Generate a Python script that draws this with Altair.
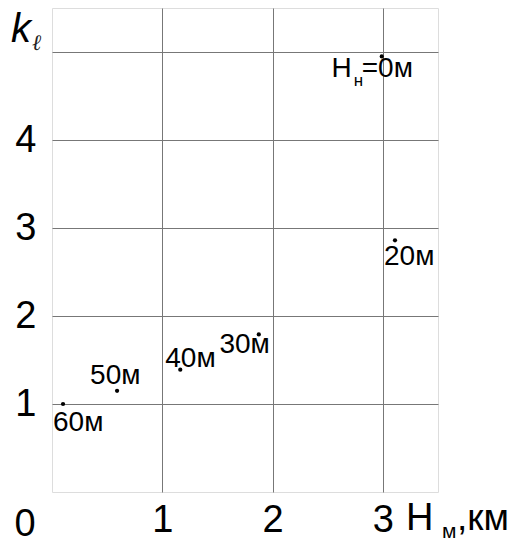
import altair as alt
import pandas as pd

# data
H_km = [2.99, 3.11, 1.875, 1.163, 0.59, 0.10]
k_l = [4.95, 2.86, 1.79, 1.39, 1.15, 1.00]
depth = ["0м", "20м", "30м", "40м", "50м", "60м"]
x_ticks = [1, 2, 3]
y_ticks = [1, 2, 3, 4, 5]

df = pd.DataFrame({"H": H_km, "k": k_l, "lab": depth})
one = pd.DataFrame({"a": [0]})

FONT = "Liberation Sans"
LBL = 28

xsc = alt.Scale(domain=[0, 3.5], nice=False, zero=False)
ysc = alt.Scale(domain=[0, 5.5], nice=False, zero=False)

base = alt.Chart(df)

points = base.mark_circle(size=18, color="black", opacity=1).encode(
    x=alt.X("H:Q", scale=xsc, axis=alt.Axis(
        values=x_ticks, title=None, domain=False, ticks=False, format="d",
        labelFontSize=38, labelFont=FONT, labelColor="black",
        labelPadding=9, labelFlush=False,
        gridColor="#777", gridOpacity=1, gridWidth=1)),
    y=alt.Y("k:Q", scale=ysc, axis=alt.Axis(
        values=y_ticks, title=None, domain=False, ticks=False, format="d",
        labelExpr="datum.value == 5 ? '' : datum.label",
        labelFontSize=38, labelFont=FONT, labelColor="black",
        labelPadding=16, labelFlush=False,
        gridColor="#777", gridOpacity=1, gridWidth=1)),
)


def lab(name, dx, dy, align="left", text=None, size=LBL):
    mk = dict(align=align, baseline="alphabetic", dx=dx, dy=dy,
              fontSize=size, font=FONT, color="black")
    ch = base.transform_filter(alt.datum.lab == name)
    if text is not None:
        return ch.mark_text(text=text, **mk).encode(x="H:Q", y="k:Q")
    return ch.mark_text(**mk).encode(x="H:Q", y="k:Q", text="lab:N")


labels = [
    lab("0м", -30, 21, "right", text="H"),
    lab("0м", -28, 30, "left", text="н", size=17),
    lab("0м", -20, 21, "left", text="=0м"),
    lab("20м", -11, 25),
    lab("30м", 11, 19, "right"),
    lab("40м", -15, -3),
    lab("50м", -27, -7),
    lab("60м", -10, 27),
]

zero = alt.Chart(one).mark_text(
    text="0", fontSize=38, font=FONT, color="black", align="center",
    baseline="alphabetic").encode(x=alt.value(-27), y=alt.value(528))

ktitle = alt.Chart(one).mark_text(
    text="k", fontSize=40, font=FONT, fontStyle="italic", color="black",
    align="left", baseline="alphabetic").encode(x=alt.value(-41), y=alt.value(34))
ltitle = alt.Chart(one).mark_text(
    text="ℓ", fontSize=22, font="DejaVu Serif", fontStyle="italic", color="#222",
    align="left", baseline="alphabetic").encode(x=alt.value(-20), y=alt.value(42))

xt1 = alt.Chart(one).mark_text(
    text="H", fontSize=38, font=FONT, color="black",
    align="left", baseline="alphabetic").encode(x=alt.value(354), y=alt.value(522))
xt2 = alt.Chart(one).mark_text(
    text="м", fontSize=21, font=FONT, color="black",
    align="left", baseline="alphabetic").encode(x=alt.value(390), y=alt.value(530))
xt3 = alt.Chart(one).mark_text(
    text=",км", fontSize=37, font=FONT, color="black",
    align="left", baseline="alphabetic").encode(x=alt.value(405), y=alt.value(522))

chart = alt.layer(points, *labels, zero, ktitle, ltitle, xt1, xt2, xt3).properties(
    width=386, height=484,
    autosize=alt.AutoSizeParams(type="none"),
    padding={"left": 44, "top": 0, "right": 70, "bottom": 46},
).configure_view(stroke="#555", strokeWidth=1).configure(background="white")

chart.save("out.html", embed_options={"renderer": "svg", "actions": False})
